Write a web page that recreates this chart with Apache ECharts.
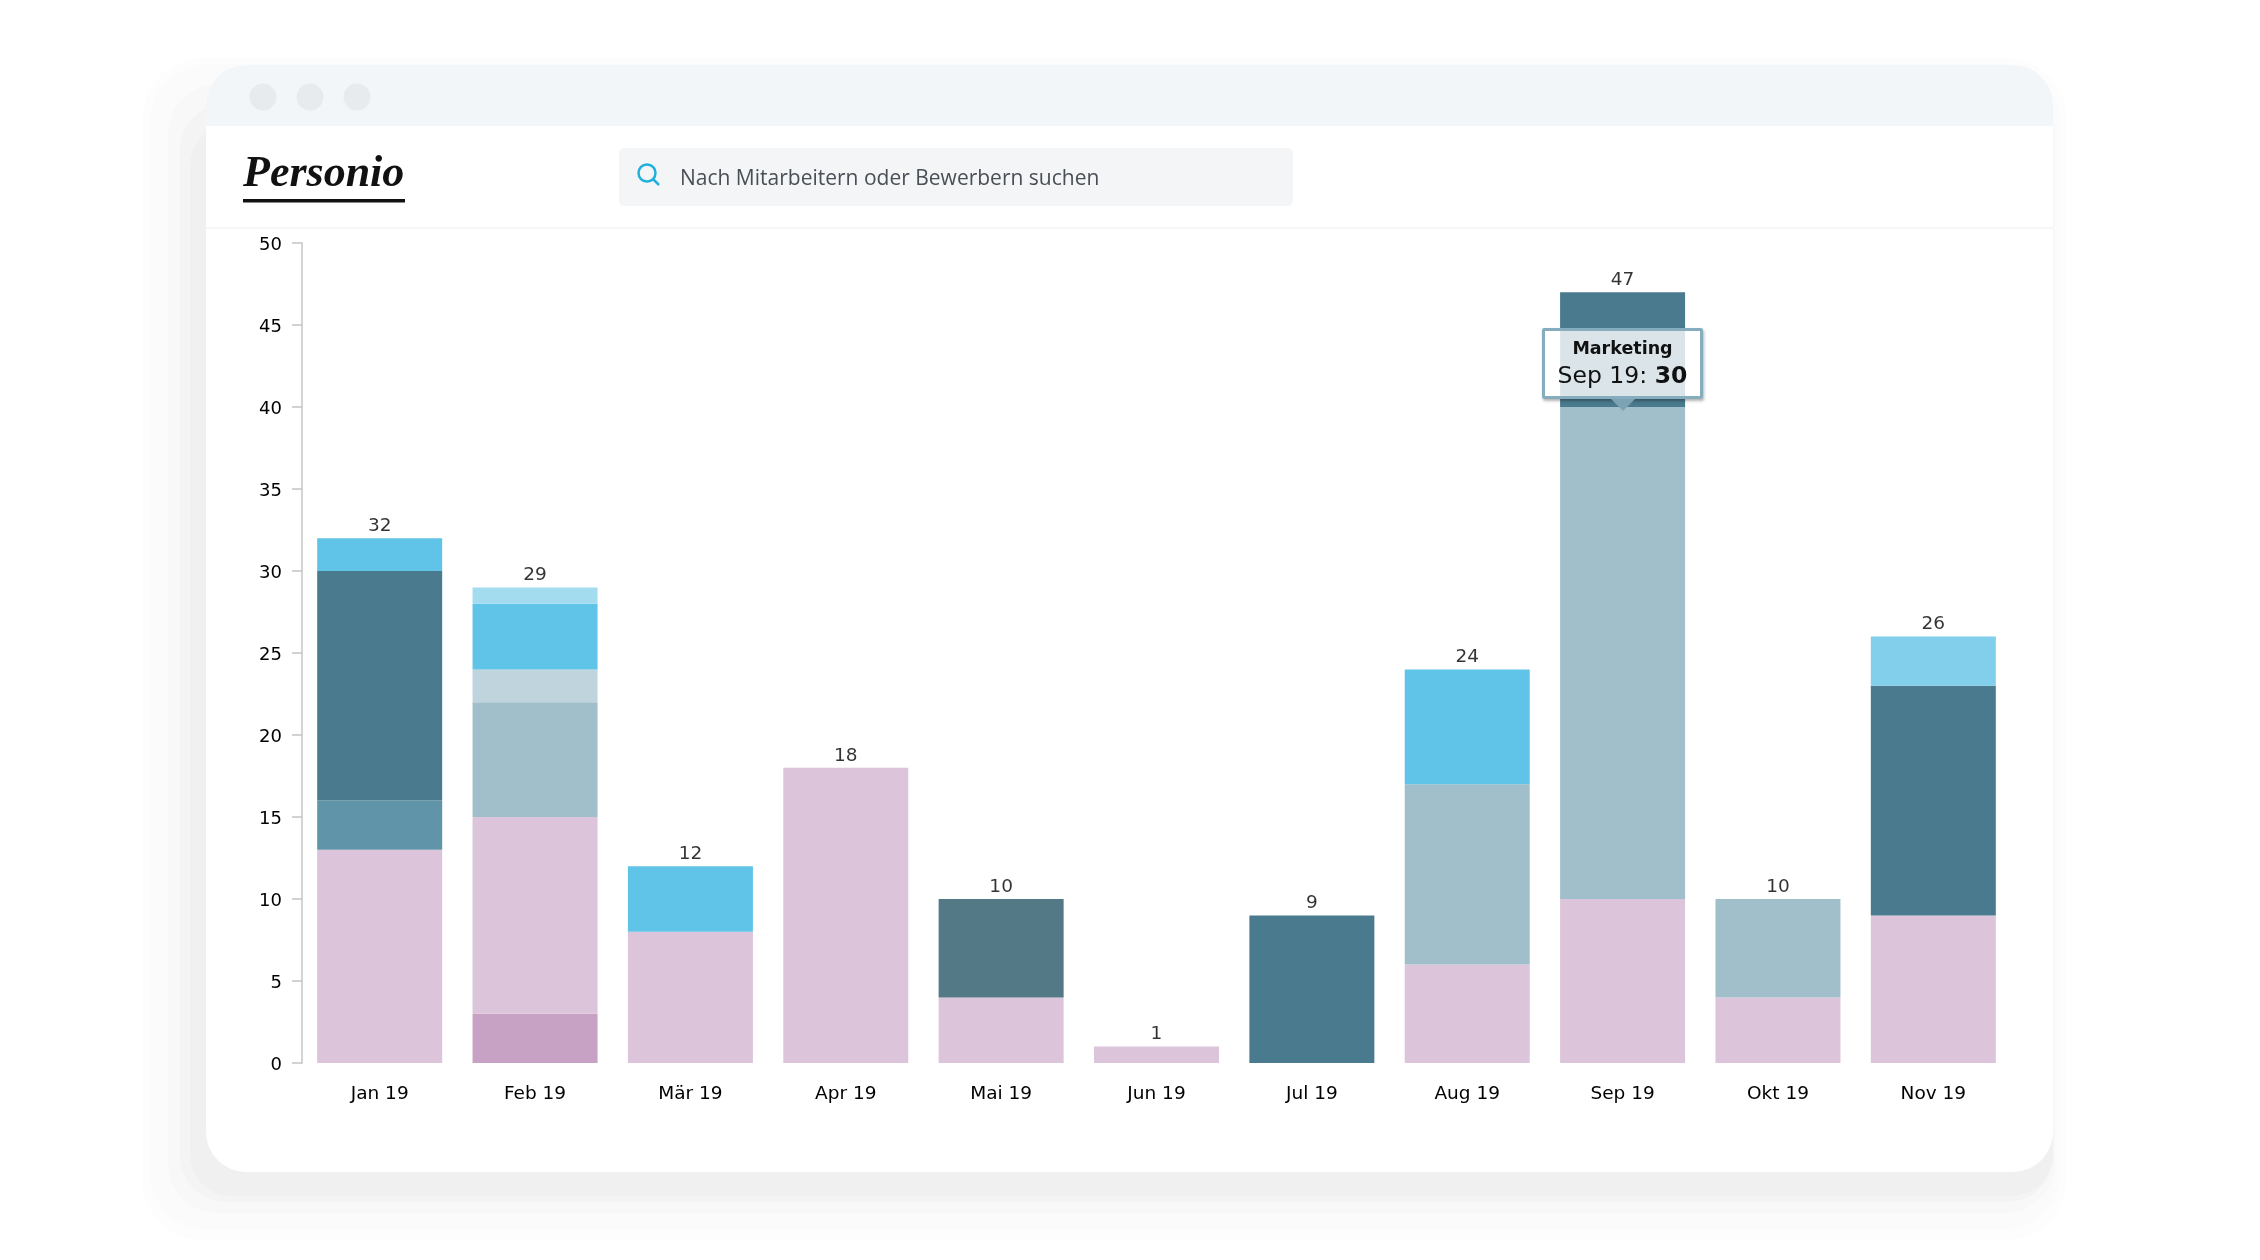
<!DOCTYPE html>
<html>
<head>
<meta charset="utf-8">
<title>Personio</title>
<style>
  html, body { margin: 0; background: #fff; }
  #main { width: 2260px; height: 1260px; }
</style>
</head>
<body>
<div id="main"></div>
<script src="https://cdn.jsdelivr.net/npm/echarts@6/dist/echarts.min.js"></script>
<script>
var months = ['Jan 19', 'Feb 19', 'Mär 19', 'Apr 19', 'Mai 19', 'Jun 19', 'Jul 19', 'Aug 19', 'Sep 19', 'Okt 19', 'Nov 19']
var totals = [32, 29, 12, 18, 10, 1, 9, 24, 47, 10, 26]

// stacked from the bottom up, only "Marketing" is named in the picture
var plum      = [null, 3, null, null, null, null, null, null, null, null, null]
var pink      = [13, 12, 8, 18, 4, 1, null, 6, 10, 4, 9]
var teal      = [3, null, null, null, null, null, null, null, null, null, null]
var marketing = [null, 7, null, null, null, null, null, 11, 30, 6, null]
var paleTeal  = [null, 2, null, null, null, null, null, null, null, null, null]
var petrol    = [14, null, null, null, null, null, 9, null, 7, null, 14]
var slate     = [null, null, null, null, 6, null, null, null, null, null, null]
var sky       = [2, 4, 4, null, null, null, null, 7, null, null, null]
var lightSky  = [null, null, null, null, null, null, null, null, null, null, 3]
var paleSky   = [null, 1, null, null, null, null, null, null, null, null, null]

var chart = echarts.init(document.getElementById('main'))
var textColor = '#000'
var fontFamily = '"DejaVu Sans", sans-serif'
var cssFont = "'DejaVu Sans', sans-serif"

function bar(name, data, color) {
  return {
    name: name,
    type: 'bar',
    stack: 'total',
    barWidth: 125,
    data: data,
    itemStyle: { color: color }
  }
}

function band(x0, y0, x1, y1, color, r) {
  return {
    type: 'rect',
    z: -5,
    silent: true,
    shape: { x: x0, y: y0, width: x1 - x0, height: y1 - y0, r: r },
    style: { fill: color }
  }
}

var option = {
  animation: false,
  backgroundColor: '#fff',
  grid: { left: 302, right: 249, top: 243, bottom: 197 },
  tooltip: {
    show: true,
    trigger: 'item',
    alwaysShowContent: true,
    transitionDuration: 0,
    backgroundColor: 'rgba(255,255,255,0.8)',
    borderColor: '#85adbd',
    borderWidth: 3,
    borderRadius: 2,
    padding: [5, 0, 7, 0],
    extraCssText: 'width:155px;text-align:center;box-shadow:1px 2px 3px rgba(0,0,0,0.3);',
    // anchored on the bar segment, the arrow is part of the formatter
    position: function (point, params, dom, rect, size) {
      if (!rect) return point
      return [rect.x + rect.width / 2 - size.contentSize[0] / 2, rect.y - size.contentSize[1] - 8]
    },
    formatter: function (p) {
      return '<div style="font:bold 17.5px/25px ' + cssFont + ';color:#111">' + p.seriesName + '</div>' +
        '<div style="font:23.5px/28px ' + cssFont + ';color:#111">' + p.name + ': <b>' + p.value + '</b></div>' +
        '<div style="position:absolute;left:50%;margin-left:-12px;bottom:-15px;width:0;height:0;' +
        'border-left:12px solid transparent;border-right:12px solid transparent;border-top:12px solid #7ba3b3"></div>'
    }
  },
  xAxis: {
    type: 'category',
    data: months,
    axisLine: { show: false },
    axisTick: { show: false },
    axisLabel: { color: textColor, fontFamily: fontFamily, fontSize: 18.5, margin: 22 }
  },
  yAxis: {
    type: 'value',
    min: 0,
    max: 50,
    interval: 5,
    splitLine: { show: false },
    axisLine: { show: true, lineStyle: { color: '#c4c4c4', width: 1.5 } },
    axisTick: { show: true, length: 10, lineStyle: { color: '#c4c4c4', width: 1.5 } },
    axisLabel: { color: textColor, fontFamily: fontFamily, fontSize: 18, margin: 20, verticalAlign: 'top', lineHeight: 5 }
  },
  series: [
    bar('Plum', plum, '#c8a2c4'),
    bar('Pink', pink, '#dcc4da'),
    bar('Teal', teal, '#6095a9'),
    bar('Marketing', marketing, '#a0bfca'),
    bar('Pale teal', paleTeal, '#c0d4dd'),
    bar('Petrol', petrol, '#4a7a8e'),
    bar('Slate', slate, '#537987'),
    bar('Sky', sky, '#60c3e8'),
    bar('Light sky', lightSky, '#82cfec'),
    bar('Pale sky', paleSky, '#a3dcef'),
    {
      // carries the totals above the stacks
      name: 'Total',
      type: 'scatter',
      silent: true,
      symbolSize: 1,
      itemStyle: { color: 'transparent' },
      tooltip: { show: false },
      data: totals,
      label: {
        show: true,
        position: 'top',
        distance: 2,
        color: textColor,
        fontFamily: fontFamily,
        fontSize: 18.5
      }
    }
  ],
  graphic: {
    elements: [
      // layered window shadow
      band(142, 58, 2067, 1240, '#fdfdfd', 62),
      band(150, 64, 2060, 1230, '#fbfbfb', 58),
      band(168, 84, 2055, 1213, '#f8f8f8', 50),
      band(180, 104, 2053, 1202, '#f4f4f4', 46),
      band(190, 124, 2053, 1196, '#f0f0f0', 42),
      // window
      band(206, 65, 2053, 1172, '#ffffff', 40),
      band(206, 65, 2053, 126, '#f3f6f9', [40, 40, 0, 0]),
      band(206, 227, 2053, 229, '#f4f6f8', 0),
      { type: 'circle', z: -4, silent: true, shape: { cx: 263, cy: 97, r: 13.5 }, style: { fill: '#e8ebed' } },
      { type: 'circle', z: -4, silent: true, shape: { cx: 310, cy: 97, r: 13.5 }, style: { fill: '#e8ebed' } },
      { type: 'circle', z: -4, silent: true, shape: { cx: 357, cy: 97, r: 13.5 }, style: { fill: '#e8ebed' } },
      // logo
      {
        type: 'text', z: -4, silent: true, x: 243, y: 197,
        style: { text: 'Personio', fill: '#111', font: 'italic bold 44px "Liberation Serif", serif', verticalAlign: 'bottom' }
      },
      band(243, 199, 405, 202.5, '#111', 0),
      // search box
      band(619, 148, 1293, 206, '#f3f5f7', 5),
      { type: 'circle', z: -4, silent: true, shape: { cx: 647, cy: 173, r: 8.5 }, style: { fill: 'none', stroke: '#1fb0dc', lineWidth: 2.5 } },
      { type: 'line', z: -4, silent: true, shape: { x1: 653, y1: 179, x2: 659, y2: 185 }, style: { stroke: '#1fb0dc', lineWidth: 2.5 } },
      {
        type: 'text', z: -4, silent: true, x: 680, y: 179,
        style: { text: 'Nach Mitarbeitern oder Bewerbern suchen', fill: '#4a4f55', font: '21px "Open Sans", sans-serif', verticalAlign: 'middle' }
      }
    ]
  }
}
chart.setOption(option)
chart.dispatchAction({ type: 'showTip', seriesIndex: 3, dataIndex: 8 })
</script>
</body>
</html>
